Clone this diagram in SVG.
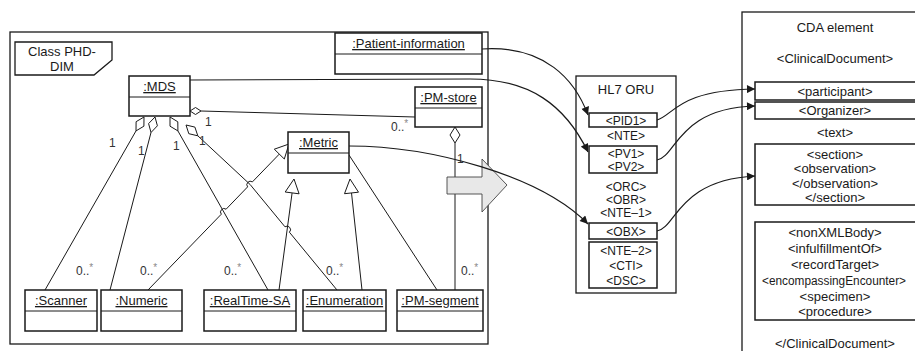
<svg xmlns="http://www.w3.org/2000/svg" width="915" height="351" viewBox="0 0 915 351">
<defs>
<style>
text{font-family:"Liberation Sans",Arial,sans-serif;fill:#1a1a1a}
.t13{font-size:13px}
.t12{font-size:12px}
.c{text-anchor:middle}
.u{text-decoration:underline}
.box{fill:#fff;stroke:#1a1a1a;stroke-width:1.5}
.ln{fill:none;stroke:#1a1a1a;stroke-width:1}
.dia{fill:#fff;stroke:#1a1a1a;stroke-width:1}
.gen{fill:#fff;stroke:#1a1a1a;stroke-width:1}
.map{fill:none;stroke:#1a1a1a;stroke-width:1.2}
.lbl{font-size:12px;fill:#333}
.st{fill:#888;font-size:10px}
</style>
<marker id="ah" viewBox="0 0 10 10" refX="10" refY="5" markerWidth="10" markerHeight="8" markerUnits="userSpaceOnUse" orient="auto">
<path d="M0,0 L10,5 L0,10 z" fill="#1a1a1a"/>
</marker>
</defs>
<rect width="915" height="351" fill="#fff"/>

<!-- frame -->
<g id="frame">
<rect x="10" y="32" width="478" height="312" fill="none" stroke="#1a1a1a" stroke-width="1.3"/>
<polygon points="15,42 112,42 112,60 94,75 15,75" fill="#fff" stroke="#1a1a1a" stroke-width="1.3"/>
<text class="t13 c" x="62" y="56">Class PHD-</text>
<text class="t13 c" x="62" y="71">DIM</text>
</g>

<!-- UML lines -->
<g id="uml-connectors">
<!-- MDS to PM-store -->
<polygon class="dia" points="190,111 195.5,107.5 201,111 195.5,114.5"/>
<line class="ln" x1="201" y1="111" x2="415" y2="117"/>
<!-- d1 -->
<polygon class="dia" points="144,117 136.1,121.7 136,130.9 143.9,126.2"/>
<line class="ln" x1="136" y1="130.9" x2="45" y2="290"/>
<!-- d2 -->
<polygon class="dia" points="155,117 148.6,123.6 151,132.5 157.4,125.8"/>
<line class="ln" x1="151" y1="132.5" x2="110" y2="290"/>
<!-- d3 -->
<polygon class="dia" points="170,117 170,126.2 177.9,130.9 177.8,121.8"/>
<line class="ln" x1="177.9" y1="130.9" x2="268" y2="290"/>
<!-- d4 -->
<polygon class="dia" points="186,125 188.8,133.7 197.8,135.8 194.9,127.1"/>
<path class="ln" d="M197.8,135.8 L250,184.4 L284.97,226.8 A3.5,3.5 0 0 1 289.4,232.2 L337,290"/>
<!-- Numeric to Metric (generalization) -->
<path class="ln" d="M148,290 L221.3,214.2 A3.5,3.5 0 0 1 226.1,209.2 L247.6,186.9 A3.5,3.5 0 0 1 252.4,181.9 L279.3,154.1"/>
<polygon class="gen" points="289,144 284.3,159 274.3,149.2"/>
<!-- RealTime-SA to Metric -->
<line class="ln" x1="279" y1="290" x2="292.1" y2="192.9"/>
<polygon class="gen" points="294,179 299.1,193.8 285.2,192"/>
<!-- Enumeration to Metric -->
<line class="ln" x1="362" y1="290" x2="351.5" y2="192.9"/>
<polygon class="gen" points="350,179 358.5,192.2 344.5,193.7"/>
<!-- Metric to PM-segment -->
<line class="ln" x1="349" y1="155" x2="437" y2="290"/>
<!-- PM-store to PM-segment -->
<polygon class="dia" points="455,127 460,135 455,143 450,135"/>
<line class="ln" x1="455" y1="143" x2="455" y2="290"/>
<!-- multiplicities -->
<text class="lbl" x="205" y="126">1</text>
<text class="lbl" x="109" y="147">1</text>
<text class="lbl" x="138" y="155">1</text>
<text class="lbl" x="173" y="150">1</text>
<text class="lbl" x="199" y="145">1</text>
<text class="lbl" x="457" y="163">1</text>
<text class="lbl" x="391" y="131">0..<tspan class="st" dy="-4">*</tspan></text>
<text class="lbl" x="76" y="275">0..<tspan class="st" dy="-4">*</tspan></text>
<text class="lbl" x="140" y="275">0..<tspan class="st" dy="-4">*</tspan></text>
<text class="lbl" x="224" y="275">0..<tspan class="st" dy="-4">*</tspan></text>
<text class="lbl" x="326" y="275">0..<tspan class="st" dy="-4">*</tspan></text>
<text class="lbl" x="461" y="275">0..<tspan class="st" dy="-4">*</tspan></text>
</g>

<!-- class nodes -->
<g id="mds">
<rect class="box" x="129" y="76" width="61" height="40"/>
<line class="ln" x1="129" y1="97" x2="190" y2="97" stroke-width="1.5"/>
<text class="t13 c u" x="159.5" y="91">:MDS</text>
</g>
<g id="patient-information">
<rect class="box" x="335" y="33" width="147" height="41"/>
<line class="ln" x1="335" y1="54" x2="482" y2="54" stroke-width="1.5"/>
<text class="t13 c u" x="408.5" y="48">:Patient-information</text>
</g>
<g id="pm-store">
<rect class="box" x="415" y="87" width="67" height="40"/>
<line class="ln" x1="415" y1="108" x2="482" y2="108" stroke-width="1.5"/>
<text class="t13 c u" x="448.5" y="102">:PM-store</text>
</g>
<g id="metric">
<rect class="box" x="288" y="132" width="61" height="41"/>
<line class="ln" x1="288" y1="153" x2="349" y2="153" stroke-width="1.5"/>
<text class="t13 c u" x="318.5" y="147">:Metric</text>
</g>
<g id="scanner">
<rect class="box" x="25" y="290" width="72" height="41"/>
<line class="ln" x1="25" y1="311" x2="97" y2="311" stroke-width="1.5"/>
<text class="t13 c u" x="61" y="305">:Scanner</text>
</g>
<g id="numeric">
<rect class="box" x="101" y="290" width="81" height="41"/>
<line class="ln" x1="101" y1="311" x2="182" y2="311" stroke-width="1.5"/>
<text class="t13 c u" x="141.5" y="305">:Numeric</text>
</g>
<g id="realtime-sa">
<rect class="box" x="204" y="290" width="92" height="41"/>
<line class="ln" x1="204" y1="311" x2="296" y2="311" stroke-width="1.5"/>
<text class="t13 c u" x="250" y="305">:RealTime-SA</text>
</g>
<g id="enumeration">
<rect class="box" x="303" y="290" width="83" height="41"/>
<line class="ln" x1="303" y1="311" x2="386" y2="311" stroke-width="1.5"/>
<text class="t13 c u" x="344.5" y="305">:Enumeration</text>
</g>
<g id="pm-segment">
<rect class="box" x="397" y="290" width="86" height="41"/>
<line class="ln" x1="397" y1="311" x2="483" y2="311" stroke-width="1.5"/>
<text class="t13 c u" x="440" y="305">:PM-segment</text>
</g>

<!-- big arrow -->
<g id="transform-arrow">
<polygon points="447,177 482,177 482,159 507,185 482,212 482,194 447,194" fill="#e8e8e8" stroke="#444" stroke-width="0.9"/>
</g>

<!-- HL7 ORU -->
<g id="hl7-oru">
<rect x="576" y="76" width="100" height="217" fill="#fff" stroke="#1a1a1a" stroke-width="1.3"/>
<text class="t13 c" x="626" y="94">HL7 ORU</text>
<rect class="box" x="589" y="113" width="68" height="14"/>
<text class="t12 c" x="626" y="125">&lt;PID1&gt;</text>
<text class="t12 c" x="626" y="140">&lt;NTE&gt;</text>
<rect class="box" x="589" y="146" width="68" height="27"/>
<text class="t12 c" x="626" y="158">&lt;PV1&gt;</text>
<text class="t12 c" x="626" y="171">&lt;PV2&gt;</text>
<text class="t12 c" x="626" y="191">&lt;ORC&gt;</text>
<text class="t12 c" x="626" y="204">&lt;OBR&gt;</text>
<text class="t12 c" x="626" y="217">&lt;NTE–1&gt;</text>
<rect class="box" x="589" y="223" width="68" height="16"/>
<text class="t12 c" x="626" y="236">&lt;OBX&gt;</text>
<rect class="box" x="589" y="242" width="68" height="46"/>
<text class="t12 c" x="626" y="255">&lt;NTE–2&gt;</text>
<text class="t12 c" x="626" y="270">&lt;CTI&gt;</text>
<text class="t12 c" x="626" y="285">&lt;DSC&gt;</text>
</g>

<!-- CDA element -->
<g id="cda-element">
<rect x="742" y="12" width="200" height="400" fill="#fff" stroke="#1a1a1a" stroke-width="1.3"/>
<text class="t13 c" x="835" y="32">CDA element</text>
<text class="t13 c" x="835" y="63">&lt;ClinicalDocument&gt;</text>
<rect class="box" x="755" y="82" width="180" height="18"/>
<text class="t13 c" x="835" y="96">&lt;participant&gt;</text>
<rect class="box" x="755" y="102" width="180" height="17"/>
<text class="t13 c" x="835" y="115">&lt;Organizer&gt;</text>
<text class="t13 c" x="835" y="137">&lt;text&gt;</text>
<rect class="box" x="755" y="144" width="180" height="61"/>
<text class="t13 c" x="835" y="159">&lt;section&gt;</text>
<text class="t13 c" x="835" y="173">&lt;observation&gt;</text>
<text class="t13 c" x="835" y="188">&lt;/observation&gt;</text>
<text class="t13 c" x="835" y="202">&lt;/section&gt;</text>
<rect class="box" x="755" y="222" width="180" height="98"/>
<text class="t13 c" x="835" y="237">&lt;nonXMLBody&gt;</text>
<text class="t13 c" x="835" y="253">&lt;infulfillmentOf&gt;</text>
<text class="t13 c" x="835" y="269">&lt;recordTarget&gt;</text>
<text class="t12 c" x="834" y="285" textLength="144" lengthAdjust="spacingAndGlyphs">&lt;encompassingEncounter&gt;</text>
<text class="t13 c" x="835" y="301">&lt;specimen&gt;</text>
<text class="t13 c" x="835" y="316">&lt;procedure&gt;</text>
<text class="t13 c" x="835" y="348">&lt;/ClinicalDocument&gt;</text>
</g>

<!-- mapping connectors -->
<g id="mapping-connectors">
<path class="map" d="M482,49 C545,45 575,80 588,115" marker-end="url(#ah)"/>
<path class="map" d="M190,80 L470,79 C530,79 565,105 588,152" marker-end="url(#ah)"/>
<path class="map" d="M349,146 C430,146 540,175 588,224" marker-end="url(#ah)"/>
<path class="map" d="M657,120 C674,115 678,90 755,89" marker-end="url(#ah)"/>
<path class="map" d="M657,160 C676,157 678,108 755,106" marker-end="url(#ah)"/>
<path class="map" d="M657,231 C676,228 678,180 755,176" marker-end="url(#ah)"/>
</g>
</svg>
